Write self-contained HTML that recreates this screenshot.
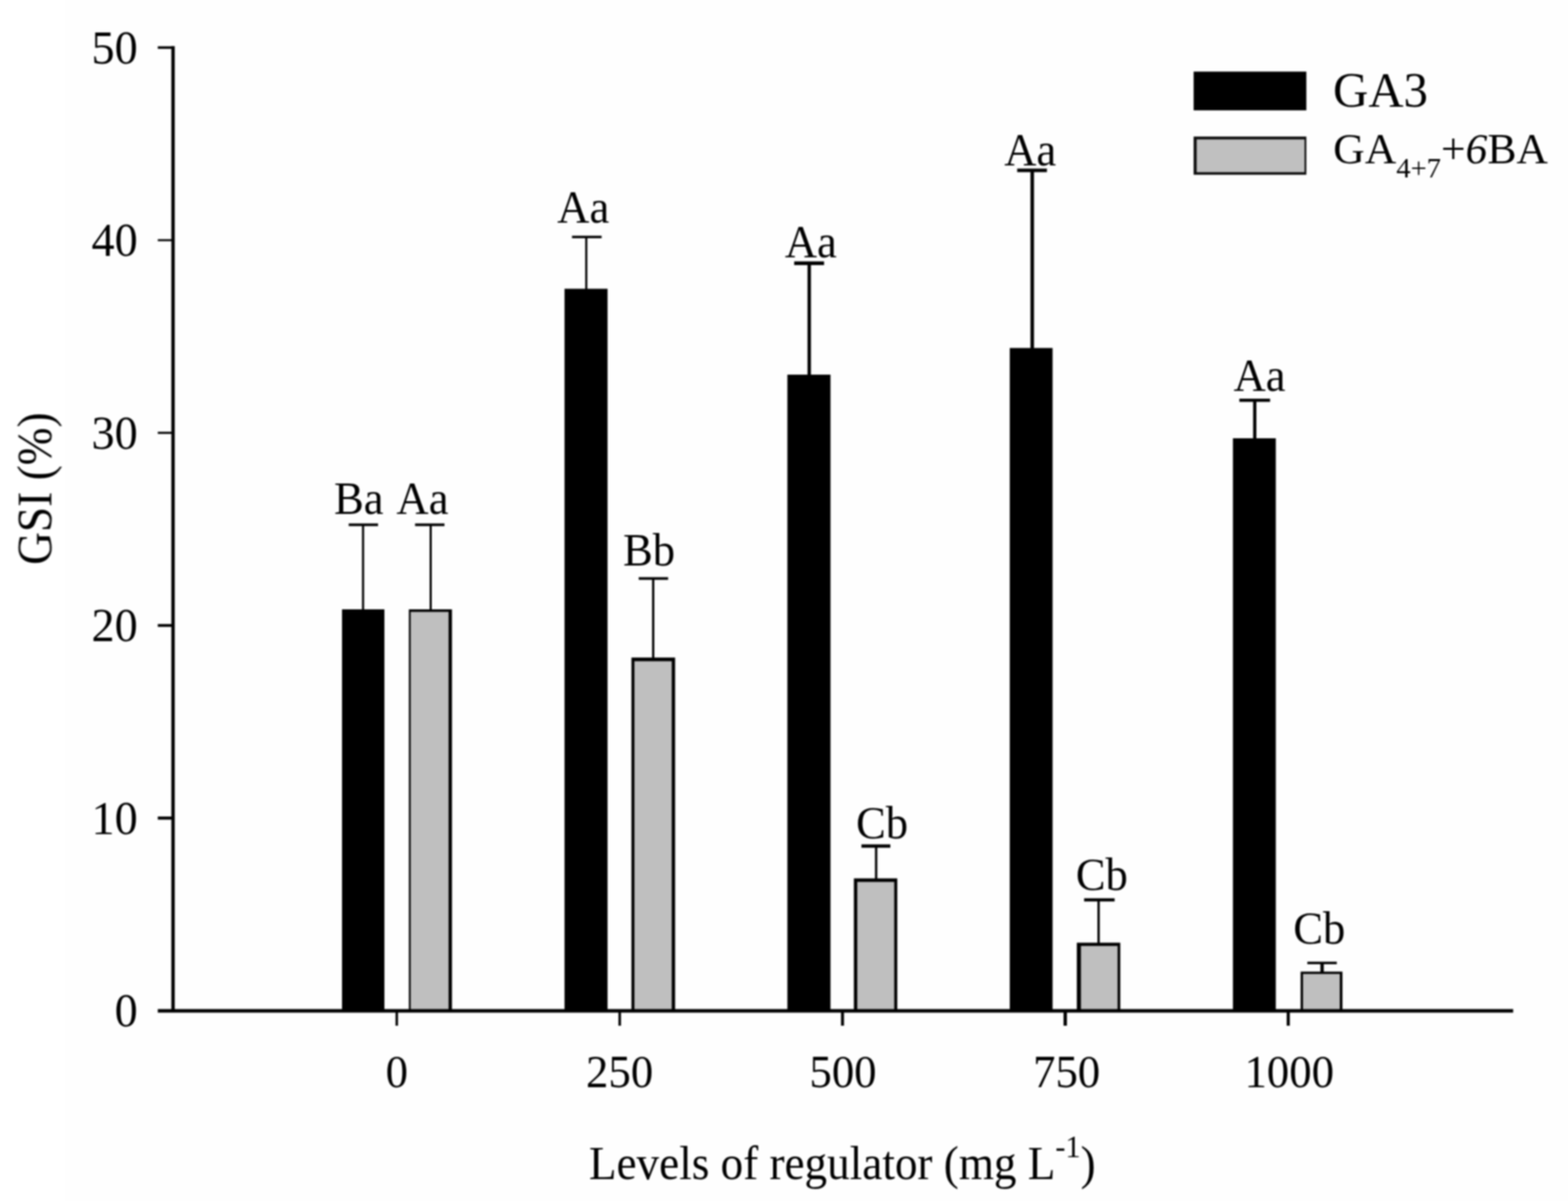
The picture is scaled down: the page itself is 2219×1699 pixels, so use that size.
<!DOCTYPE html>
<html lang="en"><head><meta charset="utf-8"><title>GSI (%) by levels of regulator</title>
<style>
html,body{margin:0;padding:0;background:#fff;}
body{width:2219px;height:1699px;overflow:hidden;}
svg{display:block;font-family:"Liberation Serif", serif;fill:#000;}
</style></head><body>
<svg width="2219" height="1699" viewBox="0 0 2219 1699">
<rect x="0" y="0" width="2219" height="1699" fill="#fff"/>
<rect x="92" y="0" width="2127" height="1699" fill="#fefefe"/>
<defs><filter id="soft" filterUnits="userSpaceOnUse" x="0" y="0" width="2219" height="1699" color-interpolation-filters="sRGB"><feGaussianBlur stdDeviation="0.8"/></filter></defs>
<g id="chart" filter="url(#soft)">
<g stroke="#000" fill="none">
<path d="M513.8 864.0V742.4" stroke-width="3.0"/>
<path d="M493.5 742.4H535.0" stroke-width="3.6"/>
<path d="M829.7 410.5V335.2" stroke-width="3.0"/>
<path d="M809.5 335.2H851.4" stroke-width="3.4"/>
<path d="M1145.2 532.0V372.4" stroke-width="4.8"/>
<path d="M1123.9 372.4H1166.2" stroke-width="5.2"/>
<path d="M1460.8 494.3V241.0" stroke-width="5.0"/>
<path d="M1439.5 241.0H1481.6" stroke-width="5.2"/>
<path d="M1775.7 622.0V566.2" stroke-width="4.6"/>
<path d="M1753.9 566.2H1797.4" stroke-width="4.4"/>
<path d="M609.5 864.0V742.4" stroke-width="3.0"/>
<path d="M587.4 742.4H629.0" stroke-width="3.6"/>
<path d="M924.4 932.2V818.4" stroke-width="3.2"/>
<path d="M903.9 818.4H945.5" stroke-width="3.8"/>
<path d="M1239.9 1244.6V1196.9" stroke-width="3.3"/>
<path d="M1219.1 1196.9H1260.0" stroke-width="4.8"/>
<path d="M1554.7 1335.6V1272.9" stroke-width="3.3"/>
<path d="M1534.2 1272.9H1577.4" stroke-width="4.5"/>
<path d="M1871.0 1376.5V1362.2" stroke-width="4.8"/>
<path d="M1850.1 1362.2H1891.8" stroke-width="3.6"/>
</g>
<rect x="484.0" y="862.0" width="60.0" height="568.0" fill="#000"/>
<rect x="798.9" y="408.5" width="60.9" height="1021.5" fill="#000"/>
<rect x="1114.3" y="530.0" width="61.0" height="900.0" fill="#000"/>
<rect x="1429.0" y="492.3" width="60.6" height="937.7" fill="#000"/>
<rect x="1744.8" y="620.0" width="60.7" height="810.0" fill="#000"/>
<rect x="578.6" y="862.0" width="61.0" height="568.0" fill="#000"/>
<rect x="581.2" y="865.6" width="53.6" height="564.4" fill="#bfbfbf"/>
<rect x="893.6" y="930.2" width="61.8" height="499.8" fill="#000"/>
<rect x="897.8" y="935.4" width="52.8" height="494.6" fill="#bfbfbf"/>
<rect x="1208.4" y="1242.6" width="61.4" height="187.4" fill="#000"/>
<rect x="1213.2" y="1247.6" width="52.3" height="182.4" fill="#bfbfbf"/>
<rect x="1523.9" y="1333.6" width="61.5" height="96.4" fill="#000"/>
<rect x="1529.7" y="1338.2" width="51.9" height="91.8" fill="#bfbfbf"/>
<rect x="1840.6" y="1374.5" width="59.2" height="55.5" fill="#000"/>
<rect x="1844.0" y="1377.8" width="52.0" height="52.2" fill="#bfbfbf"/>
<g stroke="#000" fill="none">
<path d="M244.9 65.2V1432.0" stroke-width="4.8"/>
<path d="M223.3 1430.0H2141.4" stroke-width="5.2"/>
<path d="M223.3 1157.3H244" stroke-width="4.4"/>
<path d="M223.3 884.8H244" stroke-width="4.0"/>
<path d="M223.3 612.3H244" stroke-width="3.0"/>
<path d="M223.3 339.8H244" stroke-width="2.8"/>
<path d="M223.3 67.3H244" stroke-width="3.6"/>
<path d="M561.5 1430.0V1451" stroke-width="3.5"/>
<path d="M877.0 1430.0V1451" stroke-width="3.6"/>
<path d="M1192.3 1430.0V1451" stroke-width="4.2"/>
<path d="M1507.5 1430.0V1451" stroke-width="4.8"/>
<path d="M1823.1 1430.0V1451" stroke-width="4.4"/>
</g>
<text transform="translate(194.8 1452.0) scale(0.975 1)" font-size="67" text-anchor="end">0</text>
<text transform="translate(194.8 1179.5) scale(0.975 1)" font-size="67" text-anchor="end">10</text>
<text transform="translate(194.8 907.0) scale(0.975 1)" font-size="67" text-anchor="end">20</text>
<text transform="translate(194.8 634.5) scale(0.975 1)" font-size="67" text-anchor="end">30</text>
<text transform="translate(194.8 362.0) scale(0.975 1)" font-size="67" text-anchor="end">40</text>
<text transform="translate(194.8 89.5) scale(0.975 1)" font-size="67" text-anchor="end">50</text>
<text transform="translate(561.6 1538.0) scale(0.975 1)" font-size="65" text-anchor="middle">0</text>
<text transform="translate(876.8 1538.0) scale(0.975 1)" font-size="65" text-anchor="middle">250</text>
<text transform="translate(1193.0 1538.0) scale(0.975 1)" font-size="65" text-anchor="middle">500</text>
<text transform="translate(1509.5 1538.0) scale(0.975 1)" font-size="65" text-anchor="middle">750</text>
<text transform="translate(1824.5 1538.0) scale(0.975 1)" font-size="65" text-anchor="middle">1000</text>
<text transform="translate(472.8 727.4) scale(0.978 1)" font-size="64.5">Ba</text>
<text transform="translate(561.1 727.4) scale(0.978 1)" font-size="64.5">Aa</text>
<text transform="translate(788.6 314.6) scale(0.978 1)" font-size="64.5">Aa</text>
<text transform="translate(881.8 799.6) scale(0.978 1)" font-size="64.5">Bb</text>
<text transform="translate(1110.7 364.1) scale(0.978 1)" font-size="64.5">Aa</text>
<text transform="translate(1211.5 1185.6) scale(0.978 1)" font-size="64.5">Cb</text>
<text transform="translate(1421.3 234.2) scale(0.978 1)" font-size="64.5">Aa</text>
<text transform="translate(1522.5 1258.6) scale(0.978 1)" font-size="64.5">Cb</text>
<text transform="translate(1745.8 553.4) scale(0.978 1)" font-size="64.5">Aa</text>
<text transform="translate(1830.2 1335.0) scale(0.978 1)" font-size="64.5">Cb</text>
<rect x="1689.2" y="101.3" width="159.5" height="54.8" fill="#000"/>
<rect x="1689.2" y="193.2" width="159.5" height="54" fill="#0c0c0c"/>
<rect x="1693.5" y="197.2" width="152.6" height="46.4" fill="#c0c0c0"/>
<text transform="translate(1886.6 150.6) scale(1.000 1)" font-size="69">GA3</text>
<text transform="translate(1886.8 230.5) scale(1.012 1)" font-size="61">GA<tspan font-size="40" dy="20">4+7</tspan><tspan dy="-20">+</tspan><tspan font-style="italic">6</tspan>BA</text>
<text transform="translate(833.4 1667.8) scale(0.954 1)" font-size="67">Levels of regulator (mg L<tspan font-size="45" dy="-30.6">-1</tspan><tspan dy="30.6">)</tspan></text>
<text transform="translate(72.6 799.0) rotate(-90) scale(0.930 1)" font-size="69">GSI (%)</text>
</g>
</svg>
</body></html>
